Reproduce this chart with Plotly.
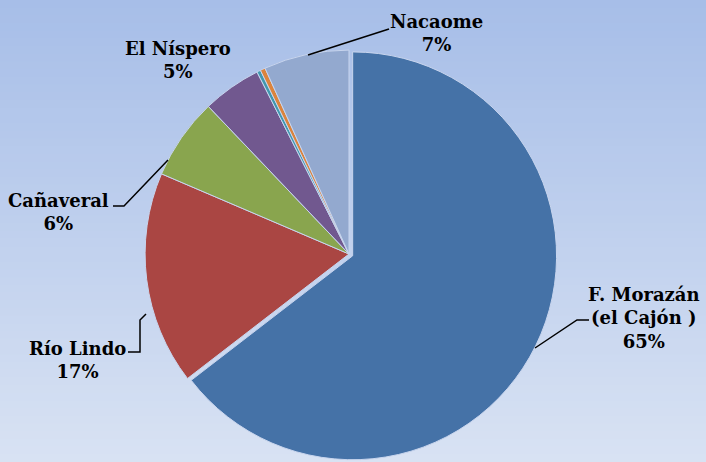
import plotly.graph_objects as go

labels = ["F. Morazán (el Cajón )", "Río Lindo", "Cañaveral", "El Níspero", "Otro 1", "Otro 2", "Nacaome"]
values = [65, 17, 6.5, 4.7, 0.3, 0.4, 6.8]
colors = ["#4572A7", "#AA4643", "#89A54E", "#71588F", "#4198AF", "#DB843D", "#93A9CF"]
pulls = [0.02, 0, 0, 0, 0, 0, 0]
label_text = ["F. Morazán<br>(el Cajón )<br>65%", "Río Lindo<br>17%", "Cañaveral<br>6%",
              "El Níspero<br>5%", "", "", "Nacaome<br>7%"]

W, H = 706, 462
fig = go.Figure()
fig.add_trace(go.Pie(
    labels=labels, values=values, sort=False, direction="clockwise", rotation=0,
    marker=dict(colors=colors, line=dict(color="#C8D5EE", width=1)),
    pull=pulls, textinfo="none", hoverinfo="label+percent",
    domain=dict(x=[(349 - 208) / W, (349 + 208) / W], y=[0, 0.9004]),
    showlegend=False,
))

# background gradient
shapes = []
top = (167, 190, 232)
bot = (216, 226, 243)
N = 60
for i in range(N):
    t = i / (N - 1)
    c = tuple(round(top[k] + (bot[k] - top[k]) * t) for k in range(3))
    shapes.append(dict(type="rect", xref="paper", yref="paper", layer="below",
                       x0=0, x1=1, y0=1 - (i + 1) / N - 0.002, y1=1 - i / N,
                       fillcolor="rgb(%d,%d,%d)" % c, line=dict(width=0)))

def pline(pts):
    path = "M " + " L ".join("%f,%f" % (x / W, 1 - y / H) for x, y in pts)
    return dict(type="path", xref="paper", yref="paper", path=path,
                line=dict(color="black", width=1.5))

shapes.append(pline([(308, 55), (389, 29)]))
shapes.append(pline([(168, 160), (124, 206), (113, 206)]))
shapes.append(pline([(146, 314), (140, 320), (140, 352), (128, 352)]))
shapes.append(pline([(535, 348), (577, 320), (589, 320)]))

font = dict(family="DejaVu Serif", size=18, color="black")
ann_pos = [(644, 318), (77, 360), (58, 212), (178, 60), None, None, (436, 33)]
annotations = []
for txt, pos in zip(label_text, ann_pos):
    if pos is None:
        continue
    annotations.append(dict(text="<b>" + txt + "</b>", x=pos[0] / W, y=1 - pos[1] / H,
                            xref="paper", yref="paper", showarrow=False, font=font,
                            align="center", xanchor="center", yanchor="middle"))

fig.update_layout(width=W, height=H, margin=dict(l=0, r=0, t=0, b=0),
                  paper_bgcolor="#BACCEB", shapes=shapes, annotations=annotations)
fig.write_html("out.html", config={"displayModeBar": False},
               post_script="document.body.style.margin='0';")
